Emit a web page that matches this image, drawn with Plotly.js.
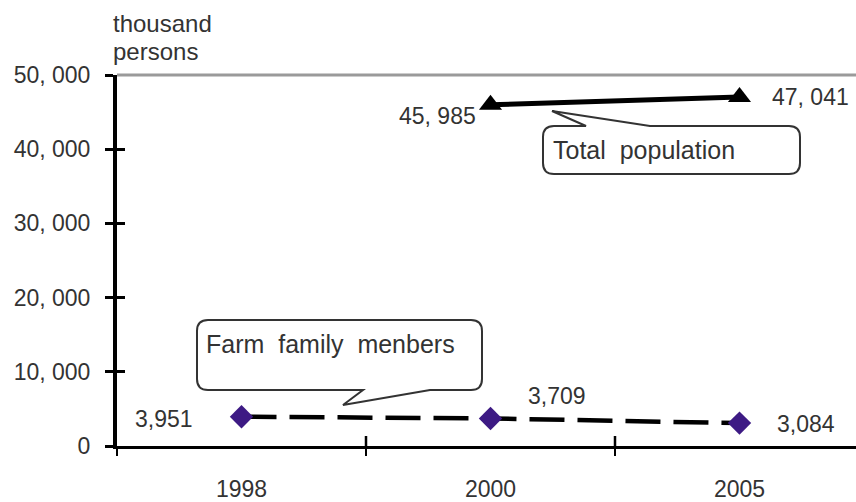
<!DOCTYPE html>
<html>
<head>
<meta charset="utf-8">
<script src="https://cdn.plot.ly/plotly-3.0.1.min.js"></script>
<style>
  html, body { margin: 0; padding: 0; background: #fff; }
  #chart { width: 856px; height: 502px; }
</style>
</head>
<body>
<div id="chart"></div>
<script>
// Population figures, thousand persons
const years = ['1998', '2000', '2005'];
const farmValues = [3951, 3709, 3084];
const totalYears = ['2000', '2005'];
const totalValues = [45985, 47041];
const yTickVals = [0, 10000, 20000, 30000, 40000, 50000];
const yTickText = ['0', '10, 000', '20, 000', '30, 000', '40, 000', '50, 000'];

const W = 856, H = 502;
const M = { l: 117, r: 0, t: 75, b: 56 };
const PW = W - M.l - M.r, PH = H - M.t - M.b;
const px = x => (x - M.l) / PW;
const py = y => (H - M.b - y) / PH;
const P = (x, y) => px(x).toFixed(5) + ',' + py(y).toFixed(5);

const FONT = '"Liberation Sans", Arial, sans-serif';
const TXT = '#333333';

// thousands separator; the big series is written with ", "
function fmt(v, sep) {
  const s = String(Math.round(v));
  return s.length > 3 ? s.slice(0, s.length - 3) + sep + s.slice(-3) : s;
}

// rounded box with a wedge-shaped pointer on its top or bottom edge
function callout(x0, y0, x1, y1, r, tail) {
  let d = 'M' + P(x0 + r, y0);
  if (tail.edge === 'top') {
    d += 'L' + P(tail.b1, y0) + 'L' + P(tail.ax, tail.ay) + 'L' + P(tail.b2, y0);
  }
  d += 'L' + P(x1 - r, y0) + 'Q' + P(x1, y0) + ' ' + P(x1, y0 + r);
  d += 'L' + P(x1, y1 - r) + 'Q' + P(x1, y1) + ' ' + P(x1 - r, y1);
  if (tail.edge === 'bottom') {
    d += 'L' + P(tail.b2, y1) + 'L' + P(tail.ax, tail.ay) + 'L' + P(tail.b1, y1);
  }
  d += 'L' + P(x0 + r, y1) + 'Q' + P(x0, y1) + ' ' + P(x0, y1 - r);
  d += 'L' + P(x0, y0 + r) + 'Q' + P(x0, y0) + ' ' + P(x0 + r, y0) + 'Z';
  return {
    type: 'path', xref: 'paper', yref: 'paper', path: d,
    line: { color: '#333333', width: 2 }, fillcolor: '#ffffff', layer: 'above'
  };
}

const traces = [
  {
    x: years, y: farmValues, type: 'scatter', mode: 'lines+markers',
    line: { color: '#000000', width: 4.5, dash: '35px,13px' },
    marker: { symbol: 'diamond', size: 18, color: '#3d1a84' },
    hoverinfo: 'skip', showlegend: false
  },
  {
    x: totalYears, y: totalValues, type: 'scatter', mode: 'lines+markers',
    line: { color: '#000000', width: 5 },
    marker: { symbol: 'triangle-up', size: 20, color: '#000000' },
    hoverinfo: 'skip', showlegend: false
  },
  // empty trace so the overlay value axis carrying the inner tick halves gets drawn
  {
    x: [], y: [], xaxis: 'x2', yaxis: 'y2', type: 'scatter', mode: 'lines',
    hoverinfo: 'skip', showlegend: false
  }
];

// value labels beside each point (category axis positions are category indices)
const farmLabelPos = [
  { xanchor: 'right', xshift: -47, yshift: -2 },
  { xanchor: 'left', xshift: 35, yshift: 22 },
  { xanchor: 'left', xshift: 35, yshift: -1 }
];
const totalLabelPos = [
  { xanchor: 'right', xshift: -13, yshift: -11 },
  { xanchor: 'left', xshift: 30, yshift: 0 }
];
const labelFont = { family: FONT, size: 23, color: TXT };
const annotations = [];
years.forEach((yr, i) => annotations.push(Object.assign({
  x: years.indexOf(yr), y: farmValues[i], xref: 'x', yref: 'y', text: fmt(farmValues[i], ','),
  showarrow: false, yanchor: 'middle', font: labelFont
}, farmLabelPos[i])));
totalYears.forEach((yr, i) => annotations.push(Object.assign({
  x: years.indexOf(yr), y: totalValues[i], xref: 'x', yref: 'y', text: fmt(totalValues[i], ', '),
  showarrow: false, yanchor: 'middle', font: labelFont
}, totalLabelPos[i])));

// unit caption above the value axis
annotations.push({ xref: 'paper', yref: 'paper', x: px(111), y: py(24), xanchor: 'left', yanchor: 'middle',
  text: 'thousand', showarrow: false, font: { family: FONT, size: 24, color: TXT } });
annotations.push({ xref: 'paper', yref: 'paper', x: px(111), y: py(52), xanchor: 'left', yanchor: 'middle',
  text: 'persons', showarrow: false, font: { family: FONT, size: 24, color: TXT } });

// callout texts
annotations.push({ xref: 'paper', yref: 'paper', x: px(204), y: py(344), xanchor: 'left', yanchor: 'middle',
  text: 'Farm  family  menbers', showarrow: false, font: { family: FONT, size: 25, color: TXT } });
annotations.push({ xref: 'paper', yref: 'paper', x: px(551), y: py(150), xanchor: 'left', yanchor: 'middle',
  text: 'Total  population', showarrow: false, font: { family: FONT, size: 25, color: TXT } });

const shapes = [
  // gray frame line along the top of the plot area
  { type: 'line', xref: 'paper', yref: 'paper', x0: 0, x1: 1, y0: 1, y1: 1,
    line: { color: '#9a9a9a', width: 3 }, layer: 'below' },
  callout(197, 320, 482, 390, 11, { edge: 'bottom', b1: 363, b2: 430, ax: 343, ay: 405 }),
  callout(543, 126, 800, 174, 11, { edge: 'top', b1: 586, b2: 650, ax: 552, ay: 111 })
];
// upper halves of the crossing category-boundary ticks
years.slice(1).forEach((_, i) => shapes.push({
  type: 'line', xref: 'x', yref: 'paper', x0: i + 0.5, x1: i + 0.5, y0: 0, y1: 10 / PH,
  line: { color: '#000000', width: 2.5 }, layer: 'above'
}));

const xRange = [-0.5, -0.5 + PW / 249];
const layout = {
  width: W, height: H,
  margin: M,
  paper_bgcolor: '#ffffff', plot_bgcolor: '#ffffff',
  font: { family: FONT, color: TXT },
  showlegend: false,
  xaxis: {
    type: 'category', categoryorder: 'array', categoryarray: years,
    range: xRange, tickson: 'boundaries',
    showline: true, linecolor: '#000000', linewidth: 3,
    ticks: 'outside', ticklen: 7, tickwidth: 2.5, tickcolor: '#000000',
    tickfont: { family: FONT, size: 23, color: TXT }, ticklabelstandoff: 20,
    showgrid: false, zeroline: false, fixedrange: true
  },
  xaxis2: {
    overlaying: 'x', anchor: 'y2', type: 'linear', range: xRange,
    ticks: '', showticklabels: false, showline: false, showgrid: false, zeroline: false
  },
  yaxis: {
    range: [0, 50000], tickvals: yTickVals, ticktext: yTickText,
    showline: true, linecolor: '#000000', linewidth: 4,
    ticks: 'outside', ticklen: 8, tickwidth: 3, tickcolor: '#000000',
    tickfont: { family: FONT, size: 23, color: TXT }, ticklabelstandoff: 10,
    showgrid: false, zeroline: false, fixedrange: true
  },
  // inner halves of the crossing value ticks
  yaxis2: {
    overlaying: 'y', anchor: 'x2', side: 'left', range: [0, 50000], tickvals: yTickVals,
    ticks: 'inside', ticklen: 8, tickwidth: 3, tickcolor: '#000000',
    showticklabels: false, showline: false, showgrid: false, zeroline: false
  },
  shapes: shapes,
  annotations: annotations
};

Plotly.newPlot('chart', traces, layout, { staticPlot: true, displayModeBar: false });
</script>
</body>
</html>
